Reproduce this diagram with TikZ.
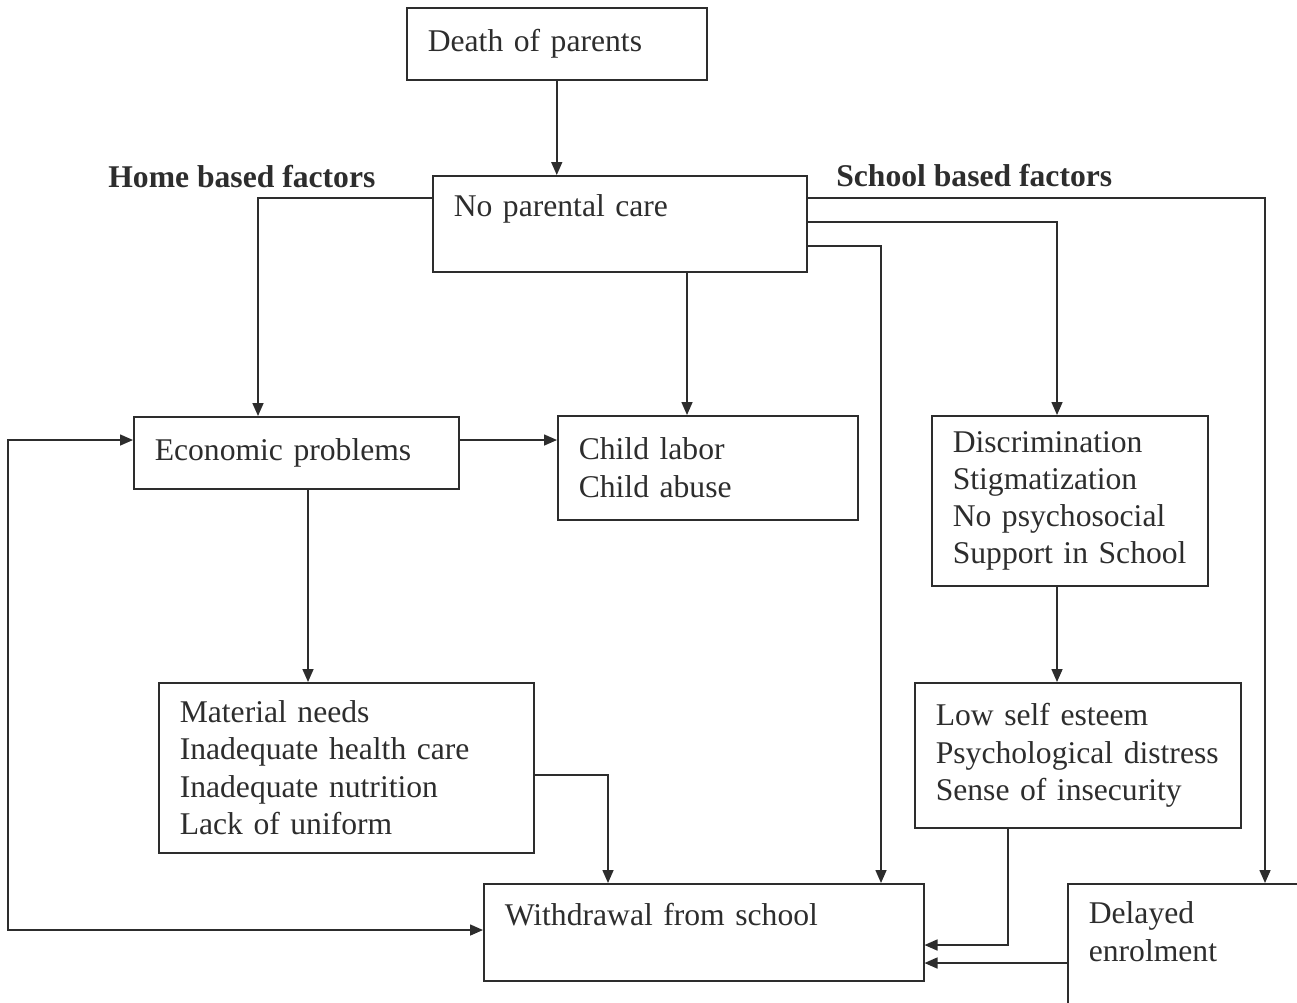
\documentclass[tikz,border=0pt]{standalone}
\usepackage{fontspec}
\setmainfont{Liberation Serif}
\usetikzlibrary{arrows.meta}
\definecolor{ink}{RGB}{45,45,45}

\begin{document}
\begin{tikzpicture}[x=0.02cm,y=-0.02cm,ink,font=\fontsize{18}{21.2}\selectfont]
	\path[use as bounding box] (0,0) rectangle (1297,1002);
	\clip (0,0) rectangle (1297,1002);

	\begin{scope}[every node/.style={draw=ink,line width=0.9pt,anchor=north west,
	              align=left,inner xsep=0.42cm,text=ink}]
	    \node[text width=5.16cm,minimum height=1.44cm] (death) at (406,7) {Death of parents};
	    \node[text width=6.64cm,inner ysep=0pt,text height=0.82cm,text depth=1.1cm] (care) at (432,175) {No parental care};
	    \node[text width=5.66cm,minimum height=1.44cm] (econ) at (133,416) {Economic problems};
	    \node[text width=5.16cm,minimum height=2.08cm] (labor) at (557,415) {Child labor\\Child abuse};
	    \node[text width=4.68cm,minimum height=3.4cm] (discr) at (931,415) {Discrimination\\Stigmatization\\No psychosocial\\Support in School};
	    \node[text width=6.66cm,minimum height=3.4cm] (needs) at (158,682) {Material needs\\Inadequate health care\\Inadequate nutrition\\Lack of uniform};
	    \node[text width=5.68cm,minimum height=2.9cm] (esteem) at (914,682) {Low self esteem\\Psychological distress\\Sense of insecurity};
	    \node[text width=7.96cm,inner ysep=0pt,text height=0.84cm,text depth=1.1cm] (quit) at (483,883) {Withdrawal from school};
	    \node[text width=4.16cm,inner ysep=0pt,text height=0.8cm,text depth=2.4cm] (late) at (1067,883) {Delayed\\enrolment};
	\end{scope}

	\node[anchor=base west,inner sep=0pt,font=\fontsize{18}{21.2}\selectfont\bfseries] (home) at (108,187) {Home based factors};
	\node[anchor=base west,inner sep=0pt,font=\fontsize{18}{21.2}\selectfont\bfseries] (school) at (836,186) {School based factors};

	\begin{scope}[>={Triangle[length=0.26cm,width=0.22cm]},line width=0.9pt]
	    \draw[->] (death.south) -- (care.north -| death.south);
	    \draw[->] (care.west |- 0,198) -| (econ.north -| 258,0);
	    \draw[->] (care.south -| 687,0) -- (labor.north -| 687,0);
	    \draw[->] (care.east |- 0,198) -| (late.north -| 1265,0);
	    \draw[->] (care.east |- 0,222) -| (discr.north -| 1057,0);
	    \draw[->] (care.east |- 0,246) -| (quit.north -| 881,0);
	    \draw[->] (econ.east |- 0,440) -- (labor.west |- 0,440);
	    \draw[->] (econ.south -| 308,0) -- (needs.north -| 308,0);
	    \draw[->] (needs.east |- 0,775) -| (quit.north -| 608,0);
	    \draw[->] (discr.south -| 1057,0) -- (esteem.north -| 1057,0);
	    \draw[->] (esteem.south -| 1008,0) |- (quit.east |- 0,945);
	    \draw[->] (late.west |- 0,963) -- (quit.east |- 0,963);
	    \coordinate (turn) at (8,440);
	    \draw[<->] (quit.west |- 0,930) -| (turn) -- (econ.west |- turn);
	\end{scope}
\end{tikzpicture}
\end{document}
